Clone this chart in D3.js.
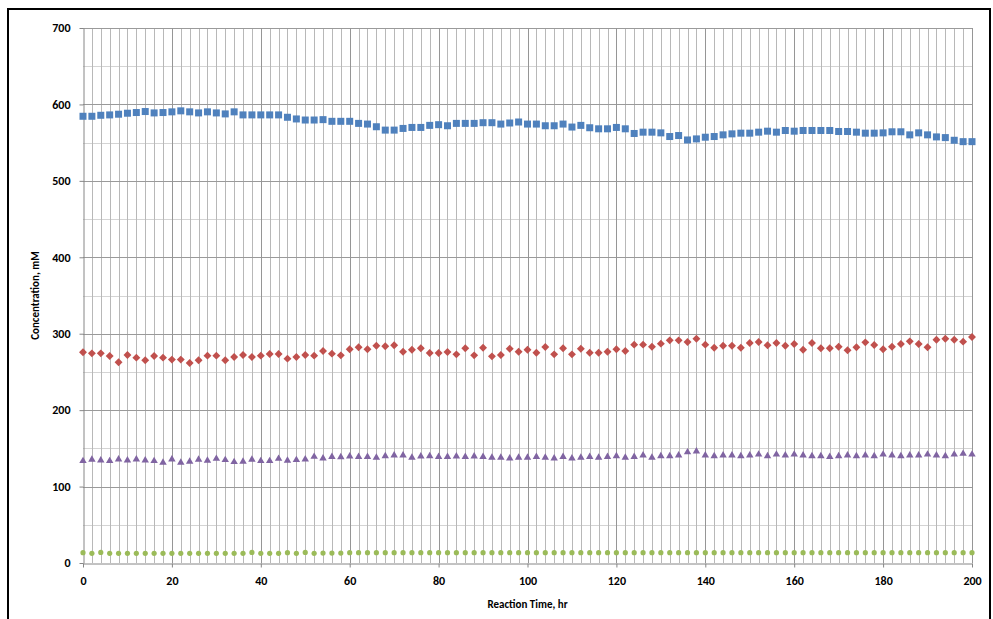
<!DOCTYPE html>
<html><head><meta charset="utf-8">
<script src="https://cdn.jsdelivr.net/npm/d3@7"></script>
<style>
html,body{margin:0;padding:0;background:#fff;}
svg{display:block;}
text{font-family:Calibri,Carlito,"Open Sans","Liberation Sans",sans-serif;font-weight:bold;fill:#000;}
</style>
</head><body>
<svg id="chart" width="993" height="619"></svg>
<script>
const hours = [0,2,4,6,8,10,12,14,16,18,20,22,24,26,28,30,32,34,36,38,40,42,44,46,48,50,52,54,56,58,60,62,64,66,68,70,72,74,76,78,80,82,84,86,88,90,92,94,96,98,100,102,104,106,108,110,112,114,116,118,120,122,124,126,128,130,132,134,136,138,140,142,144,146,148,150,152,154,156,158,160,162,164,166,168,170,172,174,176,178,180,182,184,186,188,190,192,194,196,198,200];

const seriesBlue = [584.5,584.5,585.8,586.3,587.2,588.5,589.4,590.7,588.9,589.4,590.3,591.6,590.3,588.9,590.3,588.9,587.6,590.3,586.3,586.3,586.3,586.3,586.3,583.2,581,579.6,579.6,
580.1,577.9,577.9,577.9,575.2,574.3,570.8,566.4,566.4,568.6,569.9,569.9,572.6,573.5,572.1,575.2,575.2,575.2,576.1,576.1,574.3,575.7,577,574.3,574.3,572.1,572.1,574.3,
570.4,572.6,569.5,568.1,568.1,569.9,568.1,562,563.7,563.7,562.8,558,559.3,553.5,554.9,557.1,558,560.2,561.5,562.4,562.4,563.7,565,563.7,565.9,565,
565.9,565.9,565.9,565.9,564.6,564.6,563.7,562.4,562.4,562.8,564.2,564.2,560.2,562.8,560.2,557.5,556.6,553.1,551.3,551.3];

const seriesRed = [275.7,274.3,274.3,270.9,262.6,272.2,268.7,265.2,270.9,268.7,266.1,266.1,261.7,265.2,271.3,271.3,265.2,269.6,272.2,269.6,271.3,273.5,273.5,267.4,269.6,272.2,271.3,
277.4,273.9,271.7,279.6,282.2,279.6,284.3,283.5,284.8,276.5,279.1,280.9,274.8,274.8,276.1,273,280.9,271.7,281.7,270.4,272.2,280.4,276.5,279.1,275.2,282.6,273,280.9,
273,280.4,275.2,275.2,276.5,279.6,277.4,285.7,285.7,283,287,291.3,291.3,289.1,293.5,285.7,281.7,284.3,284.3,281.7,287.8,289.1,284.8,287.8,284.3,286.5,
279.1,287.8,280.9,280.9,283,278.3,282.2,288.7,285.2,279.6,283,286.5,290,286.5,282.2,292.2,293.5,292.2,289.6,295.7];

const seriesPurple = [133.5,135.2,134.3,133.5,135.7,134.3,135.7,134.3,133.5,131.3,135.7,131.3,132.6,135.2,133.9,136.5,134.8,132.2,132.6,135.2,133.5,133.5,136.5,133.9,134.8,135.7,139.1,
137,139,138.5,139.5,139,139,138,140,141,141,138,139.5,140,139,139,139.5,139,139.5,139,138,138,137,138,138,139,138,137,139,
137,138,139,138,139,140,138,139,141,138,140,140,141,145,146,141,140,141,141,140,141,142,140,142,141,142,
141,140,140,139,140,141,140,141,140,142,141,140,141,141,142,141,140,142,143,142,142];

const seriesGreen = [13.5,12.6,13.9,12.6,12.6,12.6,12.6,12.6,12.6,12.6,12.6,12.6,12.6,12.6,12.6,12.6,12.6,12.6,12.6,13.9,12.6,12.6,12.6,13.5,12.6,13.9,12.6,
13,13,13,13.5,13.5,13.5,13.5,13.5,13.5,13.5,13.5,13.5,13.5,13.5,13.5,13.5,13.5,13.5,13.5,13.5,13.5,13.5,13.5,13.5,13.5,13.5,13.5,13.5,
13.5,13.5,13.5,13.5,13.5,13.5,13.5,13.5,13.5,13.5,13.5,13.5,13.5,13.5,13.5,13.5,13.5,13.5,13.5,13.5,13.5,13.5,13.5,13.5,13.5,13.5,
13.5,13.5,13.5,13.5,13.5,13.5,13.5,13.5,13.5,13.5,13.5,13.5,13.5,13.5,13.5,13.5,13.5,13.5,13.5,13.5];

const yTicks = [0,100,200,300,400,500,600,700];
const xTicks = [0,20,40,60,80,100,120,140,160,180,200];
const xTitle = "Reaction Time, hr";
const yTitle = "Concentration, mM";

const svg = d3.select("#chart");
const L = 83, R = 972, T = 28, B = 563;
const x = d3.scaleLinear().domain([0,200]).range([L,R]);
const y = d3.scaleLinear().domain([0,700]).range([B,T]);

// outer frame
svg.append("rect").attr("x",8).attr("y",9).attr("width",982).attr("height",620)
  .attr("fill","none").attr("stroke","#000").attr("stroke-width",2);

const grid = svg.append("g");
grid.selectAll("line.hmin").data(d3.range(50,700,100)).join("line")
  .attr("x1",L).attr("x2",R).attr("y1",d=>Math.round(y(d))+0.5).attr("y2",d=>Math.round(y(d))+0.5)
  .attr("stroke","#d4d4d4").attr("stroke-width",1);
grid.selectAll("line.vmin").data(hours.filter(h=>h%20!==0)).join("line")
  .attr("x1",d=>Math.round(x(d))+0.5).attr("x2",d=>Math.round(x(d))+0.5).attr("y1",T).attr("y2",B)
  .attr("stroke","#b8b8b8").attr("stroke-width",1);
grid.selectAll("line.hmaj").data(yTicks.slice(1)).join("line")
  .attr("x1",L).attr("x2",R).attr("y1",d=>Math.round(y(d))+0.5).attr("y2",d=>Math.round(y(d))+0.5)
  .attr("stroke","#9a9a9a").attr("stroke-width",1);
grid.selectAll("line.vmaj").data(xTicks.slice(1)).join("line")
  .attr("x1",d=>Math.round(x(d))+0.5).attr("x2",d=>Math.round(x(d))+0.5).attr("y1",T).attr("y2",B)
  .attr("stroke","#969696").attr("stroke-width",1);

const yAxis = svg.append("g").attr("transform",`translate(${L+0.5},0)`)
  .call(d3.axisLeft(y).tickValues(yTicks).tickSize(4).tickPadding(9).tickSizeOuter(0));
const xAxis = svg.append("g").attr("transform",`translate(0,${B+0.5})`)
  .call(d3.axisBottom(x).tickValues(xTicks).tickSize(4).tickPadding(9).tickSizeOuter(0));
[yAxis,xAxis].forEach(a=>{
  a.select(".domain").attr("stroke","#868686");
  a.selectAll(".tick line").attr("stroke","#868686");
  a.selectAll(".tick text").attr("font-size",12).attr("font-family",null).attr("fill","#000");
});

svg.append("text").attr("x",(L+R)/2).attr("y",608).attr("text-anchor","middle")
  .attr("font-size",11).text(xTitle);
svg.append("text").attr("transform",`translate(39,${(T+B)/2}) rotate(-90)`).attr("text-anchor","middle")
  .attr("font-size",11).text(yTitle);

const gm = svg.append("g");
gm.selectAll("rect.blue").data(hours).join("rect")
  .attr("x",(d)=>x(d)-3.5).attr("y",(d,i)=>y(seriesBlue[i])-3.5).attr("width",7).attr("height",7)
  .attr("fill","#4f81bd");
const diamond = d3.symbol().type(d3.symbolDiamond2).size(40);
gm.selectAll("path.red").data(hours).join("path")
  .attr("transform",(d,i)=>`translate(${x(d)},${y(seriesRed[i])})`).attr("d",diamond)
  .attr("fill","#c0504d");
const tri = d3.symbol().type(d3.symbolTriangle).size(24);
gm.selectAll("path.purple").data(hours).join("path")
  .attr("transform",(d,i)=>`translate(${x(d)},${y(seriesPurple[i])})`).attr("d",tri)
  .attr("fill","#8064a2");
gm.selectAll("circle.green").data(hours).join("circle")
  .attr("cx",d=>x(d)).attr("cy",(d,i)=>y(seriesGreen[i])).attr("r",2.6)
  .attr("fill","#9bbb59");
</script>
</body></html>
